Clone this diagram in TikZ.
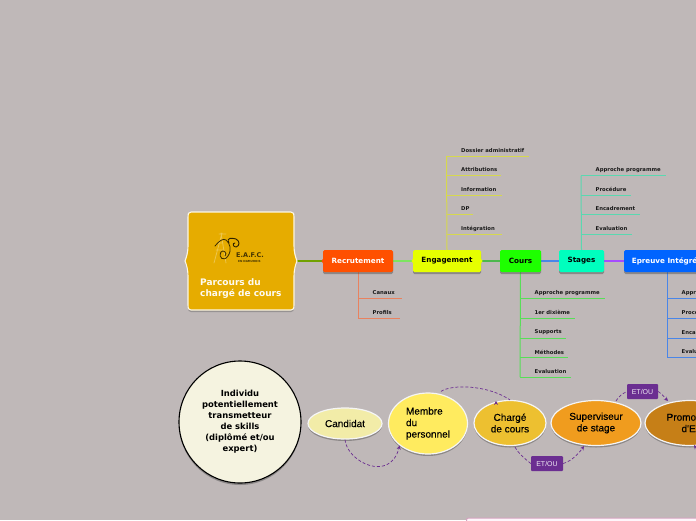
\documentclass[tikz,border=0pt]{standalone}
\usepackage{fontspec}
\setmainfont{DejaVu Sans}
\newfontfamily\arialf[FakeBold=0.25]{Liberation Sans}
\newfontfamily\arialp{Liberation Sans}
\usetikzlibrary{shadows,arrows.meta,shapes.geometric}
\definecolor{bgc}{HTML}{BFB8B8}
\definecolor{dashc}{HTML}{6B2E91}
\definecolor{rootc}{HTML}{E6AC00}
\definecolor{recc}{HTML}{FF5000}
\definecolor{engc}{HTML}{E6FF00}
\definecolor{couc}{HTML}{1EFF00}
\definecolor{stac}{HTML}{00FFBE}
\definecolor{epic}{HTML}{0064FF}
\definecolor{recl}{HTML}{E8825F}
\definecolor{engl}{HTML}{D6D84E}
\definecolor{coul}{HTML}{58DE58}
\definecolor{stal}{HTML}{5AD8B0}
\definecolor{epil}{HTML}{4A86E8}
\definecolor{candc}{HTML}{F2ECA8}
\definecolor{membc}{HTML}{FFEB5F}
\definecolor{charc}{HTML}{EDC030}
\definecolor{supc}{HTML}{F09C1E}
\definecolor{proc}{HTML}{C67F17}
\definecolor{circc}{HTML}{F5F3E0}
\tikzset{
  shad/.style={drop shadow={shadow xshift=0pt,shadow yshift=-2pt,opacity=.45,fill=black!70}},
  mainbox/.style={rounded corners=1.5pt,minimum height=22pt,inner sep=0pt,font=\fontsize{7.2}{8}\selectfont\bfseries,shad},
  leaflabel/.style={anchor=west,inner sep=0pt,font=\fontsize{5.3}{6}\selectfont\bfseries,text=black!90},
  oval/.style={ellipse,draw=white!92!gray,line width=1.2pt,inner sep=0pt,align=center,font=\arialf\fontsize{10}{11.5}\selectfont,shad},
  dashlink/.style={dashc,densely dashed,line width=.7pt,-{Stealth[length=4pt,width=4pt]}},
  dashplain/.style={dashc,densely dashed,line width=.7pt},
  tagbox/.style={fill=dashc,rounded corners=1pt,minimum width=32pt,minimum height=15pt,inner sep=0pt,text=white!90!dashc,font=\arialp\fontsize{7}{8}\selectfont},
  branch/.style={line width=1pt},
}
% name, trunk x, y, end x, text, colour
\newcommand{\leafline}[6]{%
  \coordinate (#1s) at (#2,#3);
  \coordinate (#1e) at (#4,#3);
  \node[leaflabel] (#1) at (#2+14.5,#3-5.5) {#5};
  \draw[#6,line width=.8pt] (#1s) -- (#1e);
}
\begin{document}
\begin{tikzpicture}[x=1pt,y=-1pt]
\useasboundingbox (0,0) rectangle (696,520);
\clip (0,0) rectangle (696,520);
\fill[bgc] (0,0) rectangle (696,520);

% named anchors of the top row
\node (root) at (241,261) [minimum width=112pt,minimum height=98pt,inner sep=0pt] {};
\coordinate (recanchor) at (358,261);

% top row boxes are placed first as empty-free nodes so links can refer to them
\path node[minimum width=70pt,minimum height=22pt,inner sep=0pt] (recr) at (358,261) {}
      node[minimum width=68pt,minimum height=22pt,inner sep=0pt] (enga) at (447,261) {}
      node[minimum width=41pt,minimum height=22pt,inner sep=0pt] (cour) at (520.5,261) {}
      node[minimum width=45pt,minimum height=22pt,inner sep=0pt] (stag) at (581.5,261) {}
      node[minimum width=86pt,minimum height=22pt,inner sep=0pt] (epre) at (667,261) {};

% links between main boxes
\draw[line width=1.1pt,color=black!30!rootc!70!green] (root.east) -- (recr.west);
\draw[line width=1.1pt,color=recl!30!green!70!white] (recr.east) -- (enga.west);
\draw[line width=1.1pt,color=green!60!black!70!white] (enga.east) -- (cour.west);
\draw[line width=1.1pt,color=epil] (cour.east) -- (stag.west);
\draw[line width=1.1pt,color=blue!50!magenta!70!white] (stag.east) -- (epre.west);

% leaves: Recrutement
\leafline{la}{358}{298}{402}{Canaux}{recl}
\leafline{lb}{358}{318}{400}{Profils}{recl}
\draw[recl,branch] (recr.south) -- (lbs);
% leaves: Engagement
\leafline{ea}{446.5}{156}{529}{Dossier administratif}{engl}
\leafline{eb}{446.5}{175.5}{501}{Attributions}{engl}
\leafline{ec}{446.5}{195}{502}{Information}{engl}
\leafline{ed}{446.5}{214.5}{473}{DP}{engl}
\leafline{ee}{446.5}{234}{502}{Intégration}{engl}
\draw[engl,branch] (enga.north) -- (eas);
% leaves: Cours
\leafline{ca}{520}{298.5}{605}{Approche programme}{coul}
\leafline{cb}{520}{318}{575}{1er dixième}{coul}
\leafline{cc}{520}{338}{566}{Supports}{coul}
\leafline{cd}{520}{357.5}{568}{Méthodes}{coul}
\leafline{ce}{520}{377}{571}{Evaluation}{coul}
\draw[coul,branch] (cour.south) -- (ces);
% leaves: Stages
\leafline{sa}{581}{175.5}{666}{Approche programme}{stal}
\leafline{sb}{581}{195}{631}{Procédure}{stal}
\leafline{sc}{581}{214.5}{640}{Encadrement}{stal}
\leafline{sd}{581}{234}{632}{Evaluation}{stal}
\draw[stal,branch] (stag.north) -- (sas);
% leaves: Epreuve
\leafline{pa}{667}{298.5}{752}{Approche programme}{epil}
\leafline{pb}{667}{318}{717}{Procédure}{epil}
\leafline{pc}{667}{338}{726}{Encadrement}{epil}
\leafline{pd}{667}{357.5}{718}{Evaluation}{epil}
\draw[epil,branch] (epre.south) -- (pds);

% root shape
\path[fill=black!65,opacity=.4,yshift=-2pt]
  (191,212) -- (291,212) .. controls (294,212) and (294,214) .. (294,217)
  -- (294,245) .. controls (294,254) and (296,258) .. (297,261) .. controls (296,264) and (294,268) .. (294,277)
  -- (294,305) .. controls (294,309) and (293,310) .. (291,310) -- (191,310)
  .. controls (189,310) and (188,309) .. (188,305) -- (188,277)
  .. controls (188,268) and (186,264) .. (185,261) .. controls (186,258) and (188,254) .. (188,245)
  -- (188,217) .. controls (188,214) and (188,212) .. (191,212) -- cycle;
\path[fill=rootc,draw=white!90!rootc,line width=1.1pt]
  (191,212) -- (291,212) .. controls (294,212) and (294,214) .. (294,217)
  -- (294,245) .. controls (294,254) and (296,258) .. (297,261) .. controls (296,264) and (294,268) .. (294,277)
  -- (294,305) .. controls (294,309) and (293,310) .. (291,310) -- (191,310)
  .. controls (189,310) and (188,309) .. (188,305) -- (188,277)
  .. controls (188,268) and (186,264) .. (185,261) .. controls (186,258) and (188,254) .. (188,245)
  -- (188,217) .. controls (188,214) and (188,212) .. (191,212) -- cycle;
\node[anchor=north west,inner sep=0pt,align=left,text=white!95!rootc,font=\fontsize{9}{11.5}\selectfont\bfseries] (roottext) at (200,278) {Parcours du\\chargé de cours};

% logo
\begin{scope}[line cap=round]
  \draw[color=rootc!70!white,line width=.8pt] (222,233) -- (214,263) (221,233) -- (226,263) (216,250) -- (224,250) (217,243) -- (223,243) (219,234) -- (226,234);
  \draw[color=black!75!rootc,line width=.8pt] (215,246) .. controls (219,241) and (223,238) .. (226,240) .. controls (230,243) and (232,250) .. (228,256) .. controls (224,262) and (218,258) .. (221,252) .. controls (223,249) and (228,253) .. (225,256);
  \draw[color=black!80!rootc,line width=.9pt] (229,243) .. controls (226,237) and (232,238) .. (236,239) .. controls (240,241) and (240,246) .. (236,247) .. controls (233,247) and (232,243) .. (235,243);
\end{scope}
\node[anchor=west,inner sep=0pt,text=black!70!rootc,font=\fontsize{6.5}{7}\selectfont\bfseries] (logoname) at (236,255) {E.A.F.C.};
\node[anchor=west,inner sep=0pt,text=black!70!rootc,font=\fontsize{2.8}{3}\selectfont\bfseries] (logosub) at (238,261) {EN NAMUROIS};

% main boxes
\node[mainbox,fill=recc,text=white,minimum width=70pt] at (recr) {Recrutement};
\node[mainbox,fill=engc,text=black,minimum width=68pt] at (enga) {Engagement};
\node[mainbox,fill=couc,text=black,minimum width=41pt] at (cour) {Cours};
\node[mainbox,fill=stac,text=black,minimum width=45pt] at (stag) {Stages};
\node[mainbox,fill=epic,text=white,minimum width=86pt] at (epre) {Epreuve Intégrée};
\fill[recc] (323.5,258) -- (321.5,261) -- (323.5,264) -- cycle;
\fill[engc] (413.5,258) -- (411.5,261) -- (413.5,264) -- cycle;
\fill[engc] (480.5,258) -- (482.5,261) -- (480.5,264) -- cycle;

% lower row
\node[circle,draw=black,line width=1.1pt,fill=circc,minimum size=122pt,inner sep=0pt,align=center,font=\fontsize{8.4}{11}\selectfont\bfseries,shad] (indi) at (240,422) {Individu\\potentiellement\\transmetteur\\de skills\\(diplômé et/ou\\expert)};
\node[oval,fill=candc,minimum width=74pt,minimum height=31pt] (cand) at (345,423.5) {Candidat};
\node[oval,fill=membc,minimum width=79pt,minimum height=61pt,align=left] (memb) at (428,423.5) {Membre\\du\\personnel};
\node[oval,fill=charc,minimum width=72pt,minimum height=45pt] (char) at (510,423) {Chargé\\de cours};
\node[oval,fill=supc,minimum width=90pt,minimum height=45pt] (supe) at (596,423) {Superviseur\\de stage};
\node[oval,fill=proc,minimum width=90pt,minimum height=45pt] (prom) at (690,423) {Promoteur\\d'EI};
\node[tagbox] (etb) at (547,463.5) {ET/OU};
\node[tagbox,minimum width=31pt] (ett) at (642.5,391.5) {ET/OU};
\coordinate (offright) at (712,463);

\draw[dashlink] (cand.south) .. controls (347,462) and (390,483) .. (memb.south west);
\draw[dashlink] (memb.north) ++(13,-1) .. controls (452,384) and (488,385) .. (char.north) ++(-14,1);
\draw[dashplain] (char.south) ++(5,1) .. controls (518,453) and (524,458) .. (etb.west);
\draw[dashlink] (etb.east) .. controls (572,461) and (579,453) .. ([xshift=-12pt]supe.south);
\draw[dashplain] ([xshift=20pt,yshift=-1pt]supe.north) .. controls (619,396) and (622,394) .. (ett.west);
\draw[dashlink] (ett.east) .. controls (662,394) and (665,398) .. ([xshift=-22pt,yshift=-1pt]prom.north);
\draw[dashlink] (offright) .. controls (705,460) and (700,453) .. ([xshift=4pt,yshift=1pt]prom.south);

% panel at the bottom edge
\node[draw=magenta!40!gray!60!white,line width=1pt,fill=white!96!magenta,rounded corners=2pt,minimum width=260pt,minimum height=30pt,inner sep=0pt,anchor=north west] (panel) at (466,517.5) {};
\end{tikzpicture}
\end{document}
